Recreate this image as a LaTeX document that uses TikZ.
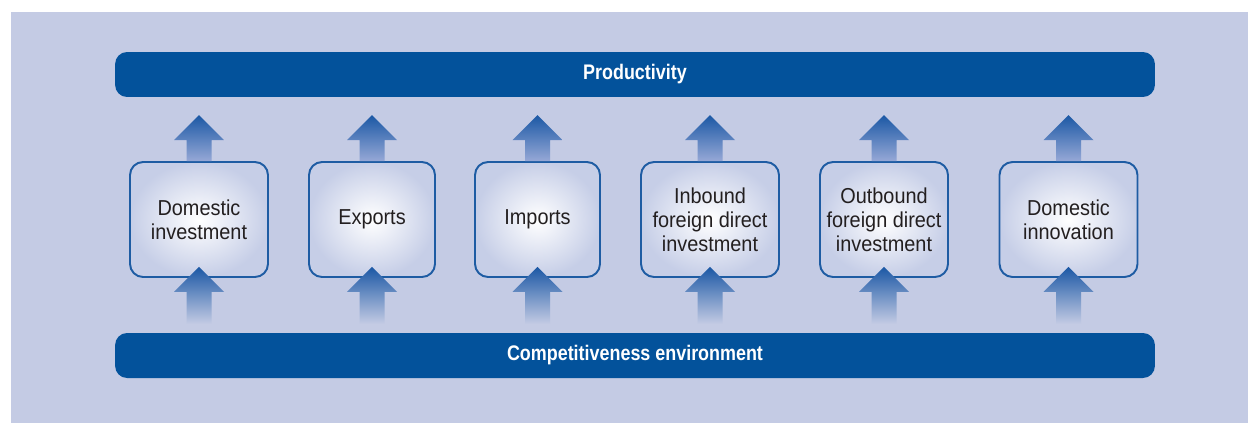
\documentclass[tikz,border=0pt]{standalone}
\usepackage{fontspec}
\setmainfont{Liberation Sans}[FakeStretch=0.92]
\newfontfamily\barfont{Liberation Sans}[FakeStretch=0.85]
\usetikzlibrary{positioning}

\definecolor{bgblue}{RGB}{196,203,228}
\definecolor{barblue}{RGB}{3,82,155}
\definecolor{boxline}{RGB}{30,92,163}
\definecolor{boxrim}{RGB}{198,206,231}
\definecolor{arrowdark}{RGB}{27,88,165}
\definecolor{arrowlight}{RGB}{150,168,214}
\definecolor{textgray}{RGB}{35,31,32}

\tikzset{
	bar/.style={fill=barblue, rounded corners=0.24cm, minimum width=20.8cm, minimum height=0.9cm, text=white, font=\barfont\bfseries\fontsize{12}{14}\selectfont},
	factor/.style={draw=boxline, line width=1.1pt, rounded corners=0.26cm, inner color=white, outer color=boxrim, minimum height=2.3cm, align=center, text=textgray, font=\fontsize{12.3}{13.7}\selectfont},
	uparrow/.style={top color=arrowdark, bottom color=arrowlight},
	fadearrow/.style={top color=arrowdark, bottom color=bgblue}
}

\begin{document}
\begin{tikzpicture}[x=0.02cm, y=-0.02cm]
	\useasboundingbox (0, 0) rectangle (1248, 423);
	\fill[bgblue] (11, 12) rectangle (1248, 423);
	\node[bar] (prod) at (635, 74.5) {Productivity};
	\node[bar] (comp) at (635, 355.5) {Competitiveness environment};
	\node[factor, minimum width=2.76cm] (b1) at (199, 219.5) {Domestic\\investment};
	\node[factor, minimum width=2.52cm] (b2) at (372, 219.5) {Exports};
	\node[factor, minimum width=2.5cm] (b3) at (537.5, 219.5) {Imports};
	\node[factor, minimum width=2.76cm] (b4) at (710, 219.5) {Inbound\\foreign direct\\investment};
	\node[factor, minimum width=2.56cm] (b5) at (884, 219.5) {Outbound\\foreign direct\\investment};
	\node[factor, minimum width=2.76cm] (b6) at (1068.5, 219.5) {Domestic\\innovation};
	\foreach \b in {b1, b2, b3, b4, b5, b6} {
		\shade[uparrow] (\b.north) ++(-12.5, 0) -- ++(0, -21) -- ++(-12.5, 0) -- ++(25, -25) -- ++(25, 25) -- ++(-12.5, 0) -- ++(0, 21) -- cycle;
		\shade[fadearrow] (\b.south) ++(-12.5, 46) -- ++(0, -32) -- ++(-12.5, 0) -- ++(25, -25) -- ++(25, 25) -- ++(-12.5, 0) -- ++(0, 32) -- cycle;
	}
\end{tikzpicture}
\end{document}
